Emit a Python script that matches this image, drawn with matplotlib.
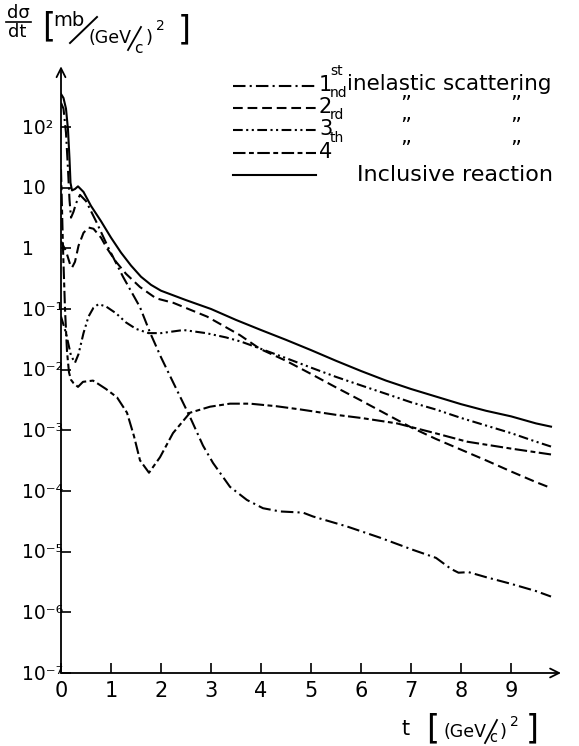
import numpy as np
import matplotlib
matplotlib.use('Agg')
import matplotlib.pyplot as plt
from matplotlib.lines import Line2D
from matplotlib.ticker import NullLocator
import matplotlib.transforms as mtransforms

plt.rcParams['font.family'] = ['DejaVu Sans']
plt.rcParams['mathtext.fontset'] = 'dejavusans'
plt.rcParams['lines.scale_dashes'] = False

# ---------------- data ----------------
t_first = [0, 0.05, 0.10, 0.14, 0.17, 0.20, 0.25, 0.30, 0.38, 0.50, 0.70, 0.94, 1.24, 1.58,
           1.78, 2.00, 2.25, 2.58, 2.84, 3.04, 3.38, 3.72, 4.04, 4.38, 4.84, 5.04, 5.72, 6.38,
           7.04, 7.50, 7.80, 7.95, 8.15, 8.50, 9.00, 9.50, 9.80]
v_first = [250, 200, 80, 20, 6.3, 3.2, 4.0, 5.5, 7.6, 6.0, 2.8, 1.05, 0.34, 0.107,
           0.041, 0.016, 6.0e-3, 1.66e-3, 5.6e-4, 2.9e-4, 1.17e-4, 7.1e-5, 5.2e-5, 4.6e-5, 4.4e-5,
           3.8e-5, 2.6e-5, 1.7e-5, 1.07e-5, 7.9e-6, 5.2e-6, 4.5e-6, 4.6e-6, 3.8e-6, 2.95e-6,
           2.24e-6, 1.82e-6]

t_second = [0, 0.10, 0.18, 0.22, 0.28, 0.35, 0.45, 0.55, 0.65, 0.80, 0.92, 1.10, 1.30, 1.58,
            1.90, 2.25, 2.92, 3.58, 3.98, 4.50, 5.00, 5.50, 6.00, 6.50, 7.00, 7.50, 8.00, 8.50,
            9.00, 9.50, 9.80]
v_second = [1.3, 0.9, 0.55, 0.48, 0.6, 1.1, 1.8, 2.2, 2.1, 1.5, 1.0, 0.6, 0.38, 0.23,
            0.15, 0.126, 0.075, 0.037, 0.022, 0.014, 0.0085, 0.0051, 0.0031, 0.00186, 0.00112,
            0.00072, 0.00048, 0.00032, 0.00021, 0.00014, 0.000112]

t_third = [0, 0.10, 0.20, 0.28, 0.35, 0.45, 0.55, 0.65, 0.75, 0.90, 1.10, 1.30, 1.50, 1.75,
           2.00, 2.45, 2.90, 3.30, 3.60, 4.00, 4.50, 5.00, 5.50, 6.00, 6.50, 7.00, 7.50, 8.00,
           8.50, 9.00, 9.50, 9.80]
v_third = [0.075, 0.04, 0.017, 0.013, 0.018, 0.04, 0.075, 0.105, 0.12, 0.11, 0.085, 0.06,
           0.047, 0.04, 0.04, 0.045, 0.04, 0.034, 0.029, 0.022, 0.0155, 0.0108, 0.0076, 0.0055,
           0.004, 0.0029, 0.0022, 0.0016, 0.0012, 0.0009, 0.00065, 0.00054]

t_fourth = [0, 0.04, 0.08, 0.12, 0.16, 0.20, 0.25, 0.34, 0.44, 0.64, 0.72, 0.90, 1.12, 1.32,
            1.46, 1.58, 1.76, 1.98, 2.24, 2.58, 2.98, 3.38, 3.78, 4.30, 4.80, 5.50, 6.00, 6.72,
            7.50, 8.12, 9.00, 9.80]
v_fourth = [20, 1.0, 0.1, 0.02, 0.009, 0.0068, 0.006, 0.0052, 0.0063, 0.0066, 0.006, 0.0048,
            0.0035, 0.00195, 0.0008, 0.00032, 0.0002, 0.00036, 0.0009, 0.00195, 0.00245, 0.00275,
            0.00275, 0.0025, 0.0022, 0.0018, 0.0016, 0.0013, 0.00089, 0.00065, 0.0005, 0.0004]

t_incl = [0, 0.05, 0.10, 0.14, 0.17, 0.19, 0.22, 0.28, 0.34, 0.45, 0.60, 0.80, 1.00, 1.20,
          1.40, 1.60, 1.80, 2.00, 2.50, 3.00, 3.50, 4.00, 4.50, 5.00, 5.50, 6.00, 6.50, 7.00,
          7.50, 8.00, 8.50, 9.00, 9.50, 9.80]
v_incl = [350, 300, 200, 90, 30, 12, 9, 9.5, 10.5, 8.5, 5.0, 2.8, 1.5, 0.85,
          0.52, 0.34, 0.25, 0.2, 0.14, 0.1, 0.066, 0.045, 0.031, 0.021, 0.014, 0.0095, 0.0066,
          0.0048, 0.0036, 0.0027, 0.0021, 0.0017, 0.0013, 0.00115]

xtick_vals = [0, 1, 2, 3, 4, 5, 6, 7, 8, 9]
xtick_labels = ['0', '1', '2', '3', '4', '5', '6', '7', '8', '9']
ytick_vals = [1e-7, 1e-6, 1e-5, 1e-4, 1e-3, 1e-2, 1e-1, 1, 10, 100]
ytick_labels = ['10\u207b\u2077', '10\u207b\u2076', '10\u207b\u2075', '10\u207b\u2074',
                '10\u207b\u00b3', '10\u207b\u00b2', '10\u207b\u00b9', '1', '10', '10\u00b2']

legend_numbers = ['1', '2', '3', '4']
legend_suffixes = ['st', 'nd', 'rd', 'th']
legend_text_first = 'inelastic scattering'
legend_text_incl = 'Inclusive reaction'

# ---------------- styles ----------------
W, H = 579, 746
sty_first = dict(color='k', lw=1.5, dashes=(9, 3, 1.5, 3))
sty_second = dict(color='k', lw=1.5, dashes=(7, 3.5))
sty_third = dict(color='k', lw=1.5, dashes=(7, 2.5, 1.5, 2.5, 1.5, 2.5))
sty_fourth = dict(color='k', lw=1.5, dashes=(9, 2.5, 3.5, 2.5))
sty_incl = dict(color='k', lw=1.5)

fig = plt.figure(figsize=(W / 100, H / 100), dpi=100)
ax = fig.add_axes([61 / W, 73 / H, 500 / W, (673 - 66.3) / H])
ax.set_yscale('log')
ax.set_xlim(0, 10)
ax.set_ylim(1e-7, 1e3)
for s in ax.spines.values():
    s.set_visible(False)

arrow = dict(arrowstyle='->', lw=1.3, color='k', shrinkA=0, shrinkB=0, mutation_scale=16)
ax.annotate('', xy=(1, 0), xytext=(0, 0), xycoords='axes fraction', arrowprops=arrow)
ax.annotate('', xy=(0, 1), xytext=(0, 0), xycoords='axes fraction', arrowprops=arrow)

ax.set_xticks(xtick_vals)
ax.set_xticklabels(xtick_labels, fontsize=15)
ax.tick_params(axis='x', direction='in', length=7, width=1.2, pad=6)
ax.set_yticks(ytick_vals)
ax.set_yticklabels([''] * len(ytick_vals))
ax.yaxis.set_minor_locator(NullLocator())
ax.tick_params(axis='y', direction='in', length=7, width=1.2)

ytrans = mtransforms.offset_copy(ax.get_yaxis_transform(), fig=fig, x=0, y=-6.6, units='dots')
for v, lab in zip(ytick_vals, ytick_labels):
    ax.text(-0.078, v, lab, transform=ytrans, ha='left', va='baseline', fontsize=13.5)

ax.plot(t_first, v_first, **sty_first)
ax.plot(t_second, v_second, **sty_second)
ax.plot(t_third, v_third, **sty_third)
ax.plot(t_fourth, v_fourth, **sty_fourth)
ax.plot(t_incl, v_incl, **sty_incl)

# ---------------- helpers for pixel placement ----------------
def P(x, y):
    return x / W, 1 - y / H

def ftext(x, y, s, **kw):
    fx, fy = P(x, y)
    fig.text(fx, fy, s, **kw)

def fline(x0, y0, x1, y1, **kw):
    a = P(x0, y0)
    b = P(x1, y1)
    fig.add_artist(Line2D([a[0], b[0]], [a[1], b[1]], transform=fig.transFigure, **kw))

# ---------------- legend ----------------
rows = [86, 108, 130, 153, 175]
styles = [sty_first, sty_second, sty_third, sty_fourth, sty_incl]
for ry, st in zip(rows, styles):
    fline(233, ry, 316, ry, **st)
for i, (n, sfx) in enumerate(zip(legend_numbers, legend_suffixes)):
    cy = rows[i] - 1
    ftext(319, cy, n, fontsize=15, ha='left', va='center')
    ftext(330, cy - 14, sfx, fontsize=10, ha='left', va='center')
ftext(347, rows[0] - 2, legend_text_first, fontsize=15.5, ha='left', va='center')
for ry in rows[1:4]:
    ftext(406, ry - 3, '\u201d', fontsize=15, ha='center', va='center')
    ftext(516, ry - 3, '\u201d', fontsize=15, ha='center', va='center')
ftext(357, rows[4], legend_text_incl, fontsize=16, ha='left', va='center')

# ---------------- y-axis title ----------------
ftext(7, 18, 'd\u03c3', fontsize=13, ha='left', va='baseline')
fline(6, 22, 31, 22, color='k', lw=1.2)
ftext(8, 37, 'dt', fontsize=13, ha='left', va='baseline')
ftext(42, 27, '[', fontsize=24, ha='left', va='center')
ftext(53, 26, 'mb', fontsize=14, ha='left', va='baseline')
fline(70, 43, 97, 17, color='k', lw=1.4)
ftext(89, 43, '(GeV', fontsize=12.5, ha='left', va='baseline')
fline(128, 50, 141, 27, color='k', lw=1.3)
ftext(134, 53, 'c', fontsize=11, ha='left', va='baseline')
ftext(146, 43, ')', fontsize=13, ha='left', va='baseline')
ftext(156, 30, '2', fontsize=10, ha='left', va='baseline')
ftext(178, 30, ']', fontsize=24, ha='left', va='center')

# ---------------- x-axis title ----------------
ftext(401, 735, 't', fontsize=15, ha='left', va='baseline')
ftext(426, 729, '[', fontsize=24, ha='left', va='center')
ftext(444, 737, '(GeV', fontsize=12.5, ha='left', va='baseline')
fline(485, 743, 497, 720, color='k', lw=1.3)
ftext(489, 742, 'c', fontsize=10.5, ha='left', va='baseline')
ftext(500, 737, ')', fontsize=13, ha='left', va='baseline')
ftext(510, 726, '2', fontsize=10, ha='left', va='baseline')
ftext(526, 729, ']', fontsize=24, ha='left', va='center')

fig.savefig('out.png', dpi=100)
